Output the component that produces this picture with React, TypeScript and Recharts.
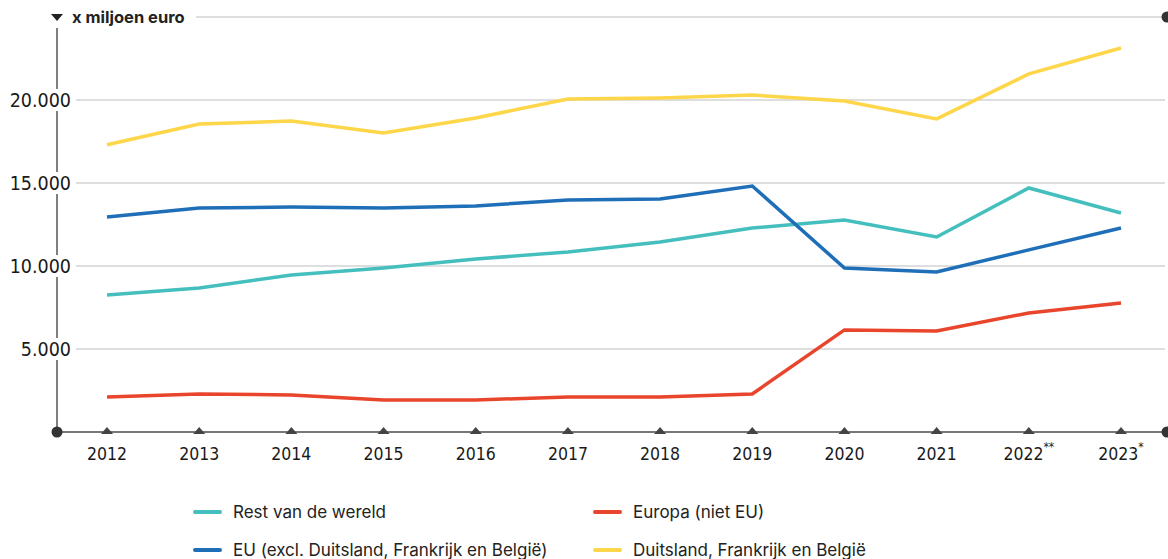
import React from 'react';
import { LineChart, Line, XAxis, YAxis, CartesianGrid } from 'recharts';

const YEARS = ['2012', '2013', '2014', '2015', '2016', '2017', '2018', '2019', '2020', '2021', '2022', '2023'];
const YEAR_NOTES = ['', '', '', '', '', '', '', '', '', '', '**', '*'];

const REST_WERELD = [8250, 8680, 9460, 9880, 10420, 10850, 11450, 12290, 12770, 11750, 14700, 13190];
const EUROPA_NIET_EU = [2110, 2290, 2230, 1930, 1930, 2110, 2110, 2290, 6150, 6090, 7170, 7770];
const EU_EXCL = [12950, 13490, 13550, 13490, 13620, 13980, 14040, 14820, 9880, 9640, 10970, 12290];
const DFB = [17300, 18550, 18730, 18010, 18920, 20060, 20120, 20300, 19940, 18860, 21570, 23130];

const Y_TICKS = [0, 5000, 10000, 15000, 20000, 25000];

const SERIES = [
  { key: 'rest', name: 'Rest van de wereld', color: '#45bfbd', values: REST_WERELD },
  { key: 'europa', name: 'Europa (niet EU)', color: '#e8452c', values: EUROPA_NIET_EU },
  { key: 'eu', name: 'EU (excl. Duitsland, Frankrijk en België)', color: '#1f6fb8', values: EU_EXCL },
  { key: 'dfb', name: 'Duitsland, Frankrijk en België', color: '#fdd64a', values: DFB },
];

const data = YEARS.map((year, i) => {
  const row: Record<string, any> = { year, note: YEAR_NOTES[i] };
  SERIES.forEach((s) => (row[s.key] = s.values[i]));
  return row;
});

const W = 1168;
const H = 470;
const AXIS_X = 57;
const PLOT_RIGHT = 1165;
const TICK_FONT = '"DejaVu Sans Condensed", "DejaVu Sans", sans-serif';

const fmt = (v: number) => v.toLocaleString('nl-NL');

function YTick(props: any) {
  const { x, y, payload } = props;
  const v = payload.value;
  if (v === 0) {
    return (
      <g>
        <circle cx={x} cy={y} r={5.5} fill="#333" />
        <circle cx={W - 1} cy={y} r={5.5} fill="#333" />
      </g>
    );
  }
  if (v === 25000) {
    return (
      <g>
        <rect x={0} y={y - 12} width={196} height={23} fill="#fff" />
        <path d={`M${x - 6},${y - 3} L${x + 6},${y - 3} L${x},${y + 4} Z`} fill="#222" />
        <text x={x + 15} y={y + 6} fontFamily="Inter, sans-serif" fontWeight={700} fontSize={16.5} fill="#222">
          x miljoen euro
        </text>
        <circle cx={W - 1} cy={y} r={5.5} fill="#333" />
      </g>
    );
  }
  return (
    <g>
      <rect x={0} y={y - 11} width={76} height={22} fill="#fff" />
      <text x={x + 14} y={y + 7} textAnchor="end" fontFamily={TICK_FONT} fontSize={19.5} fill="#1a1a1a">
        {fmt(v)}
      </text>
    </g>
  );
}

function XTick(props: any) {
  const { x, y, payload, index } = props;
  const note = YEAR_NOTES[index] || '';
  return (
    <g>
      <path d={`M${x - 6},${y} L${x + 6},${y} L${x},${y - 7} Z`} fill="#444" />
      <text x={x} y={y + 26} textAnchor="middle" fontFamily={TICK_FONT} fontSize={17.5} fill="#1a1a1a">
        {payload.value}
        {note && (
          <tspan dy={-9} fontSize={12}>
            {note}
          </tspan>
        )}
      </text>
    </g>
  );
}

function LegendBlock() {
  return (
    <div
      style={{
        position: 'absolute',
        left: 193,
        top: 498,
        display: 'grid',
        gridTemplateColumns: '400px 400px',
        rowGap: 11,
        fontFamily: 'Inter, sans-serif',
        fontSize: 17,
        color: '#222',
      }}
    >
      {SERIES.map((s) => (
        <div key={s.key} style={{ display: 'flex', alignItems: 'center', height: 27 }}>
          <span
            style={{ display: 'inline-block', width: 29, height: 4, borderRadius: 2, background: s.color, marginRight: 11 }}
          />
          <span>{s.name}</span>
        </div>
      ))}
    </div>
  );
}

export default function App() {
  return (
    <div style={{ position: 'absolute', left: 0, top: 0, width: 1168, height: 559, background: '#fff' }}>
      <LineChart width={W} height={H} data={data} margin={{ top: 17, right: W - PLOT_RIGHT, bottom: 0, left: 0 }}>
        <CartesianGrid vertical={false} stroke="#bdbdbd" strokeWidth={1} />
        <XAxis
          dataKey="year"
          height={38}
          padding={{ left: 50, right: 44 }}
          axisLine={{ stroke: '#555', strokeWidth: 1.5 }}
          tickLine={false}
          tickSize={0}
          tick={<XTick />}
          interval={0}
        />
        <YAxis
          width={AXIS_X}
          domain={[0, 25000]}
          ticks={Y_TICKS}
          axisLine={{ stroke: '#555', strokeWidth: 1.5 }}
          tickLine={false}
          tickSize={0}
          tickMargin={0}
          tick={<YTick />}
          interval={0}
        />
        {SERIES.map((s) => (
          <Line
            key={s.key}
            dataKey={s.key}
            name={s.name}
            stroke={s.color}
            strokeWidth={3.5}
            dot={false}
            type="linear"
            isAnimationActive={false}
          />
        ))}
      </LineChart>
      <LegendBlock />
    </div>
  );
}
